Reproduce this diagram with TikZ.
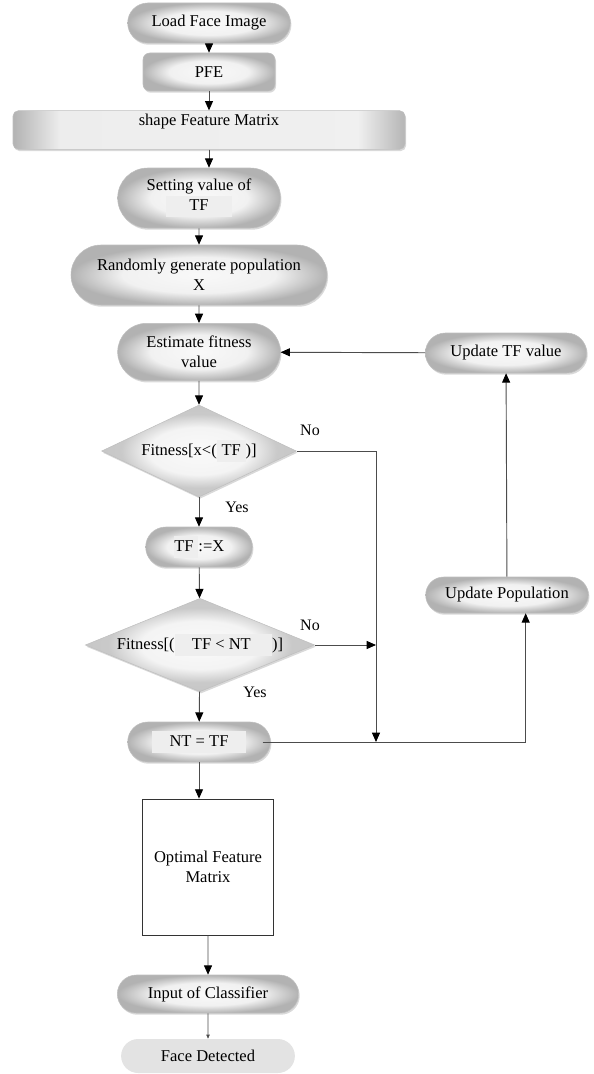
\documentclass[tikz,border=0pt]{standalone}
\usepackage{fontspec}
\setmainfont{Liberation Serif}
\usetikzlibrary{arrows.meta,positioning,shapes.geometric,shapes.misc,shadows}

\pgfdeclareradialshading{pillglow}{\pgfpointorigin}{%
	color(0bp)=(gray!5); color(15bp)=(gray!11); color(25bp)=(gray!60); color(50bp)=(gray!60)}
\pgfdeclareradialshading{diaglow}{\pgfpointorigin}{%
	color(0bp)=(gray!4); color(13bp)=(gray!9); color(20bp)=(gray!42); color(50bp)=(gray!55)}
\pgfdeclarehorizontalshading{barglow}{100bp}{%
	color(0bp)=(gray!60); color(25bp)=(gray!60); color(31bp)=(gray!14);
	color(69bp)=(gray!12); color(75bp)=(gray!58); color(100bp)=(gray!58)}
\newcommand{\hlbox}[1]{{\setlength{\fboxsep}{0.5pt}\colorbox{gray!13}{\strut #1}}}

\begin{document}
\begin{tikzpicture}[
	x=0.75pt, y=-0.75pt,
	every node/.style={font=\fontsize{12.4}{15}\selectfont, text=black},
	glow/.style={
		shading=pillglow,
		draw=gray!50,
		line width=0.4pt,
		drop shadow={opacity=0.3, shadow xshift=0.8pt, shadow yshift=-1.3pt}
		},
	pill/.style={
		glow,
		rounded rectangle,
		align=center,
		inner sep=2pt
		},
	block/.style={
		glow,
		rectangle,
		rounded corners=5pt,
		align=center
		},
	test/.style={
		glow,
		shading=diaglow,
		diamond,
		inner sep=0pt
		},
	plain/.style={
		rectangle,
		draw=black!80,
		line width=0.6pt,
		align=center
		},
	arr/.style={
		draw=black!70,
		line width=0.7pt,
		-{Triangle[length=7pt,width=6pt,color=black]}
		},
	tag/.style={font=\fontsize{12}{14}\selectfont}
]
\useasboundingbox (0,0) rectangle (593,1074);

% Steps
\node [pill, minimum width=126pt, minimum height=30pt] (load) at (209,23) {Load Face Image};
\node [block, minimum width=99pt, minimum height=28.5pt] (pfe) at (209,72) {PFE};
\node [block, shading=barglow, rounded corners=4pt, minimum width=294pt,
	inner ysep=2pt, text height=9pt, text depth=16pt] (shape) at (209,130) {shape Feature Matrix};
\node [pill, minimum width=126pt, minimum height=45pt] (setting) at (199,198)
	{Setting value of\\\hlbox{\hspace{1.4em}TF\hspace{1.4em}}};
\node [pill, minimum width=196pt, minimum height=45pt] (random) at (199,275)
	{Randomly generate population\\X};
\node [pill, minimum width=126pt, minimum height=43pt] (estimate) at (199,352)
	{Estimate fitness\\value};
\node [test, minimum width=146pt, minimum height=69pt, aspect=2.1] (fit1) at (199,451)
	{Fitness[x<(\hlbox{\ TF\ })]};
\node [pill, minimum width=84pt, minimum height=30pt] (tfx) at (199,547) {\hlbox{TF\ }:=X};
\node [test, minimum width=172pt, minimum height=70pt, aspect=2.45] (fit2) at (200,645)
	{Fitness[(\hlbox{\quad TF < NT\quad\ })]};
\node [pill, minimum width=111pt, minimum height=30pt] (ntf) at (199,742)
	{\hlbox{\quad NT = TF\quad}};
\node [plain, minimum width=98pt, minimum height=102pt] (opt) at (208,867)
	{Optimal Feature\\Matrix};
\node [pill, minimum width=140pt, minimum height=28.5pt] (input) at (208,994) {Input of Classifier};
\node [rounded rectangle, fill=gray!22, minimum width=137pt, minimum height=25.5pt] (face) at (208,1056)
	{Face Detected};

% Loop back
\node [pill, minimum width=126pt, minimum height=27pt] (updpop) at (507,595) {Update Population};
\node [pill, minimum width=125pt, minimum height=30pt] (updtf) at (506,353) {Update TF value};

% Labels
\node [tag] (no1) at (310,430) {No};
\node [tag] (yes1) at (237,507) {Yes};
\node [tag] (no2) at (310,625) {No};
\node [tag] (yes2) at (255,692) {Yes};

\coordinate (merge) at (376,742);

% Connectors
\draw [arr] (load) -- (pfe);
\draw [arr] (pfe) -- (shape);
\draw [arr] (shape.south) -- (shape.south |- setting.north);
\draw [arr] (setting) -- (random);
\draw [arr] (random) -- (estimate);
\draw [arr] (estimate) -- (fit1);
\draw [arr] (fit1) -- (tfx);
\draw [arr] (tfx) -- (fit2);
\draw [arr] (fit2) -- (ntf);
\draw [arr] (fit1.east) -| (merge);
\draw [arr] (fit2.east) -- (fit2.east -| merge);
\draw [arr] ([xshift=-6pt]ntf.east) -| ([xshift=14pt]updpop.south);
\draw [arr] (updpop) -- (updtf);
\draw [arr] (updtf) -- (estimate);
\draw [arr] (ntf.south) -- (ntf.south |- opt.north);
\draw [arr] (opt) -- (input);
\draw [draw=black!70, line width=0.5pt, -{Triangle[length=3pt,width=2.5pt]}] (input) -- (face);

\end{tikzpicture}
\end{document}
